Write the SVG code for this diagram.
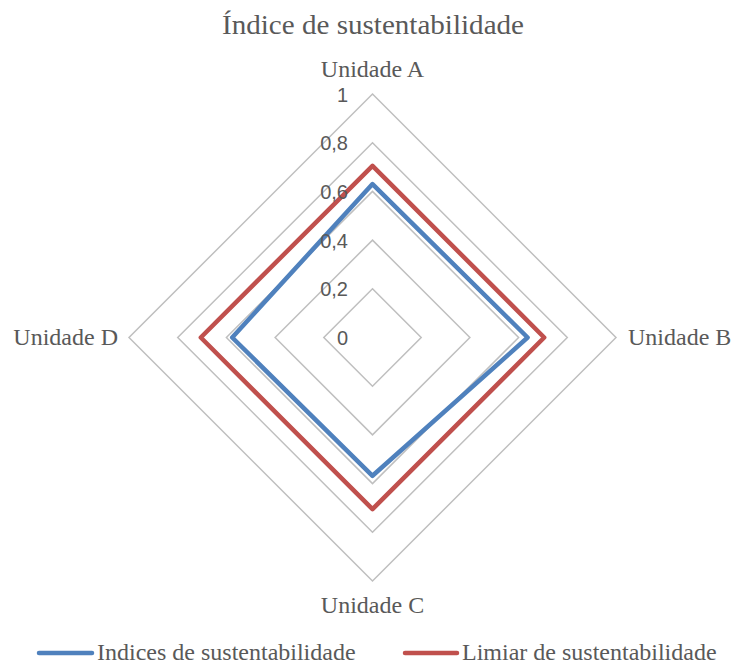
<svg xmlns="http://www.w3.org/2000/svg" width="733" height="664" viewBox="0 0 733 664">
<style>
.ring{fill:none;stroke:#BFBFBF;stroke-width:1.5;stroke-linejoin:miter}
.ser{fill:none;stroke-width:4.5;stroke-linejoin:round}
.blue{stroke:#4F81BD}
.red{stroke:#C0504D}
.serif{font-family:"Liberation Serif","Times New Roman",serif;fill:#595959}
.tick{font-family:"Liberation Sans",Arial,sans-serif;font-size:20px;fill:#595959;text-anchor:end}
.lab{font-size:24px}
</style>
<rect width="733" height="664" fill="#FFFFFF"/>
<text id="title" class="serif" x="373" y="33.5" font-size="27" text-anchor="middle" textLength="302" lengthAdjust="spacingAndGlyphs">Índice de sustentabilidade</text>
<g id="grid">
<polygon class="ring" points="372.5,288.8 421.2,337.5 372.5,386.2 323.8,337.5"/>
<polygon class="ring" points="372.5,240.1 469.9,337.5 372.5,434.9 275.1,337.5"/>
<polygon class="ring" points="372.5,191.4 518.6,337.5 372.5,483.6 226.4,337.5"/>
<polygon class="ring" points="372.5,142.7 567.3,337.5 372.5,532.3 177.7,337.5"/>
<polygon class="ring" points="372.5,94 616,337.5 372.5,581 129,337.5"/>
</g>
<g id="connectors">
<polygon id="series-indices" class="ser blue" points="372.5,184.1 527.6,337.5 372.5,475.8 232.2,337.5"/>
<polygon id="series-limiar" class="ser red" points="372.5,165.8 544.2,337.5 372.5,509.2 200.8,337.5"/>
</g>
<g id="ticks">
<text class="tick" x="348" y="101.5">1</text>
<text class="tick" x="348" y="150.2">0,8</text>
<text class="tick" x="348" y="198.9">0,6</text>
<text class="tick" x="348" y="247.6">0,4</text>
<text class="tick" x="348" y="296.3">0,2</text>
<text class="tick" x="348" y="345">0</text>
</g>
<g id="unidade-a"><text class="serif lab" x="372.5" y="77" text-anchor="middle">Unidade A</text></g>
<g id="unidade-b"><text class="serif lab" x="628" y="345">Unidade B</text></g>
<g id="unidade-c"><text class="serif lab" x="372.5" y="613" text-anchor="middle">Unidade C</text></g>
<g id="unidade-d"><text class="serif lab" x="118" y="345" text-anchor="end">Unidade D</text></g>
<g id="legend">
<line x1="39" y1="653" x2="92" y2="653" stroke="#4F81BD" stroke-width="4.5" stroke-linecap="round"/>
<text class="serif lab" x="97" y="660">Indices de sustentabilidade</text>
<line x1="405" y1="653" x2="457" y2="653" stroke="#C0504D" stroke-width="4.5" stroke-linecap="round"/>
<text class="serif lab" x="462" y="660">Limiar de sustentabilidade</text>
</g>
</svg>
